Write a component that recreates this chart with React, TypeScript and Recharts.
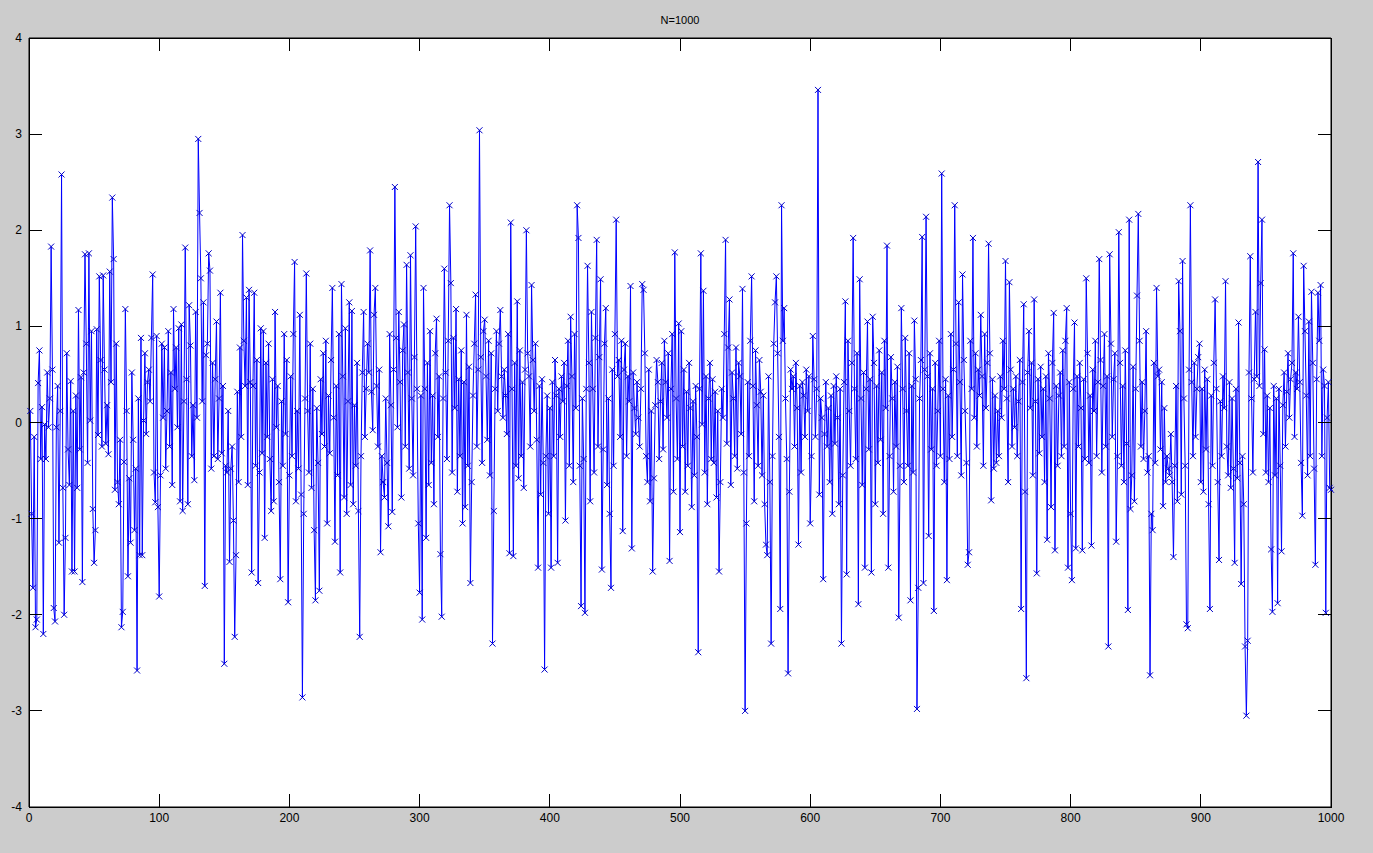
import React from 'react';
import { LineChart, Line, XAxis, YAxis } from 'recharts';

// values, 100 samples per block (x = 1..1000)
const block01 = [
  0.12, -0.95, -1.72, -0.15, -2.13, -2.05, 0.41, 0.75, -0.38, 0.16,
  -2.20, -0.02, -0.38, 0.52, -0.05, 0.25, 1.83, 0.55, -1.93, -2.07,
  -0.05, 0.38, -1.25, 0.12, 2.58, -0.68, -2.00, -1.20, 0.72, -0.28,
  -0.65, 0.43, -1.55, 0.12, -1.55, 0.28, -0.68, 1.17, -0.28, 0.47,
  -1.66, 0.52, 1.75, 0.82, -0.42, 1.76, 0.02, 0.95, -0.90, -1.46,
  -1.12, 0.97, -0.13, 1.52, 0.65, -0.25, 1.53, 0.55, -0.22, 0.18,
  -0.33, 1.57, 0.42, 2.34, 1.70, -0.70, 0.82, -0.62, -0.85, -0.18,
  -2.13, -1.97, -0.41, 1.18, 0.12, -1.60, -0.58, -1.25, 0.52, -0.18,
  -1.12, -0.48, -2.58, 0.25, -1.38, 0.88, -1.38, 0.02, 0.72, -0.12,
  0.42, 0.55, 0.22, 0.88, 1.54, -0.52, -0.83, 0.90, -0.88, -1.81,
];
const block02 = [
  -0.55, 0.82, 0.05, 0.78, -0.48, 0.12, 0.95, -0.25, 0.52, -0.65,
  1.18, 0.35, 0.78, -0.05, 0.98, -0.82, 1.02, -0.92, 0.22, 1.82,
  0.45, -0.85, 1.22, 0.80, -0.35, 0.18, -0.60, 1.15, 0.05, 2.95,
  2.18, 1.50, 0.22, 1.25, -1.70, 0.70, 0.82, 1.76, 1.58, -0.48,
  0.62, -0.35, 0.45, 1.05, -0.38, 0.25, 1.35, -0.32, 0.38, -2.51,
  -0.45, -0.52, 0.12, -1.45, -0.48, -0.25, -1.02, -2.23, -1.38, 0.32,
  -0.62, 0.78, -0.15, 1.95, 0.85, 0.38, 1.30, -0.65, 1.38, 0.42,
  -1.56, 0.38, 1.35, -0.45, 0.65, -1.67, -0.52, 0.98, -0.32, 0.95,
  -1.20, 0.62, -0.15, 0.82, -0.38, -0.92, 0.45, -0.82, 1.15, -0.05,
  0.38, -0.62, -1.63, 0.22, -0.45, 0.92, -0.12, 0.65, -1.87, -0.55,
];
const block03 = [
  0.48, -0.35, 0.92, 1.67, -0.82, 0.12, -0.48, 1.12, -0.75, -2.86,
  -0.95, 0.25, 1.55, 0.12, -0.52, 0.82, -0.68, 0.35, -1.12, -1.85,
  0.15, -0.42, -1.75, 0.45, -0.12, 0.72, -0.25, 0.85, -1.05, 0.28,
  -0.32, 0.65, 1.40, 0.05, -1.24, 0.38, -0.55, 0.92, -1.56, 1.44,
  0.48, -0.78, 0.98, -0.95, 0.22, 1.25, -0.65, 1.16, -0.85, 0.18,
  -0.45, 0.62, -0.92, -2.23, -0.35, 0.52, 1.15, -0.15, 0.35, 0.82,
  0.52, 1.79, 0.32, -0.08, 1.12, 1.40, 0.38, -0.25, 0.55, -1.35,
  -0.35, -0.62, -0.78, 0.25, -0.42, -1.08, 0.92, 0.18, -0.93, 0.55,
  2.45, 0.88, -0.05, 1.15, 0.42, -0.78, 0.75, 1.02, -0.25, 1.64,
  0.52, -0.48, 1.74, 0.25, -0.55, 0.68, 2.04, 0.35, -1.05, -1.77,
];
const block04 = [
  0.28, -2.05, 1.40, 0.35, -1.20, 0.62, -0.65, 0.95, -0.42, 0.28,
  -0.85, 0.72, 1.08, -0.15, 0.48, -1.37, -2.02, 0.25, 1.60, 0.52,
  -0.38, 0.85, 2.26, 1.45, -0.52, 0.88, 0.15, 1.18, -0.72, 0.45,
  -0.35, 0.75, -1.05, 0.42, -0.88, 1.12, -0.45, 0.58, -1.67, -0.62,
  0.28, 0.82, 1.33, -0.25, 0.55, 3.04, 0.68, -0.42, 0.95, 1.07,
  0.48, -0.18, 0.85, -0.55, 0.72, -2.30, -0.92, 0.35, 0.95, 0.12,
  0.82, 1.17, 0.48, 0.05, 0.55, 0.28, -0.12, 0.92, -1.36, 2.08,
  0.35, -1.39, 0.62, -0.45, 1.26, -0.58, 0.75, -0.35, 0.42, -0.68,
  0.55, 2.00, 0.72, 0.48, -0.25, 1.43, 0.65, 0.12, 0.82, -0.18,
  -1.51, 0.38, -0.75, 0.45, -0.42, -2.57, -0.35, 0.28, -0.95, 0.15,
];
const block05 = [
  -1.51, 0.42, -0.35, 0.65, 0.28, -1.46, 0.35, -0.15, 0.48, 0.22,
  0.62, -1.02, 0.38, 0.85, -0.45, 1.10, 0.48, -0.62, 0.92, 0.15,
  2.26, 1.92, -0.45, -1.91, 0.25, -0.38, -1.98, 0.35, 1.63, 0.62,
  -0.82, 1.15, 0.35, -0.52, 0.88, 1.90, -0.25, 0.68, 1.49, -1.53,
  -0.28, 0.82, 1.19, -0.65, 0.25, -0.95, -1.72, 0.55, -0.45, 0.92,
  2.11, 0.48, 0.65, -0.15, 0.85, -1.13, 0.55, 0.82, -0.35, 0.48,
  0.22, 1.42, -1.31, 0.52, 0.15, -0.12, 0.42, 0.05, -0.25, 0.35,
  1.44, 1.38, 0.72, -0.35, -0.62, 0.55, -0.82, 0.12, -1.55, -0.58,
  0.18, 0.65, 0.42, -0.38, 0.22, 0.62, -0.28, 0.85, 0.42, 0.05,
  0.72, -1.44, 0.35, 0.92, -0.72, 1.77, 0.25, -0.38, 1.03, -1.14,
];
const block06 = [
  0.95, -0.25, 0.55, -0.72, 0.32, -0.45, 0.62, 0.15, -0.88, 0.22,
  -0.55, 0.38, -0.15, -2.39, 0.35, 1.76, -0.02, 1.37, -0.52, 0.48,
  -0.85, 0.25, 0.62, -0.38, 0.45, -0.42, 0.32, -0.78, 0.12, -1.55,
  -0.62, 0.35, 0.05, 0.92, 1.90, -0.22, 0.78, 1.28, -0.65, 0.52,
  0.25, -0.35, 0.78, -0.48, 0.62, 0.48, -0.12, 1.39, -0.52, -3.00,
  -1.05, 0.42, -0.35, 0.85, 1.52, 0.38, -0.82, 0.75, 0.18, -0.45,
  0.65, 0.32, -0.55, 0.28, -0.85, -1.27, -1.38, 0.48, -0.62, -2.30,
  -0.35, 0.82, 1.25, 1.52, 0.72, -0.15, -1.94, 2.26, 0.85, 1.19,
  0.25, -0.38, -2.61, -0.72, 0.55, 0.35, 0.48, -0.25, 0.62, 0.15,
  -1.27, 0.38, -0.52, 0.42, 0.28, -0.15, 0.55, 0.12, 0.48, -1.05,
];
const block07 = [
  -0.35, 0.90, 0.45, -0.15, 0.35, 3.46, -0.75, 0.25, 0.05, -1.63,
  -0.12, 0.42, -0.25, 0.15, -0.62, 0.28, -0.95, 0.38, -0.22, 0.48,
  0.05, -0.85, 0.35, -2.30, -0.55, 0.42, 1.26, -1.58, 0.85, 0.12,
  -0.45, 0.62, 1.92, 0.35, -0.38, 0.72, -1.89, 1.49, 0.25, -0.65,
  0.52, -1.51, 0.35, 1.05, -0.28, 0.45, -1.56, 1.10, 0.62, -0.85,
  0.38, -0.42, 0.75, -0.18, 0.52, -0.95, 0.85, 0.15, 1.84, -1.51,
  -0.35, 0.68, 0.25, -0.72, 0.42, -0.25, 0.58, -2.03, -0.45, 1.19,
  0.35, -0.62, 0.88, 0.12, -0.45, 0.72, -1.85, 0.38, -0.52, 1.06,
  0.45, -2.98, -1.72, 0.25, 0.65, 1.93, -1.67, 0.55, 2.14, 0.48,
  -1.18, 0.72, -0.28, 0.35, -1.96, 0.62, -0.45, 0.12, 0.85, -0.35,
];
const block08 = [
  2.59, 0.35, -0.62, 0.45, -1.64, 0.28, -0.38, 0.92, -0.15, 0.55,
  2.26, 0.82, -0.35, 1.25, 0.42, -0.55, 1.54, 0.65, 0.12, -0.42,
  -1.48, -1.35, 0.85, 0.35, 1.92, 0.05, 0.72, -0.25, 0.55, 0.28,
  1.12, 0.48, -0.45, 0.92, 0.15, 0.62, 1.86, 0.72, -0.81, 0.45,
  -0.48, 0.28, -0.42, 0.12, -0.35, 0.48, 0.05, 0.85, 0.35, 1.68,
  0.25, -0.62, 1.46, 0.55, -0.25, 0.35, -0.05, 0.48, -0.35, 0.22,
  0.65, -1.94, 0.42, 1.23, -0.72, -2.66, 0.52, 0.95, 0.15, 0.62,
  -0.55, 1.28, 0.22, -1.57, 0.45, -0.32, 0.58, -0.15, 0.35, -0.62,
  0.48, -1.22, 0.72, 0.25, -0.88, 0.62, 1.14, -1.33, 0.38, -0.45,
  0.28, 0.52, -0.35, 0.75, -0.25, 0.85, 1.19, -1.51, 0.42, -0.95,
];
const block09 = [
  -1.64, 0.35, 1.04, -1.31, 0.48, -0.25, 0.62, 0.15, -1.33, 0.45,
  -0.38, 1.50, 0.72, -0.42, 0.28, -1.28, 0.55, 0.12, 0.85, -0.35,
  0.42, 1.70, 0.65, -0.52, 0.38, 0.92, -0.25, 0.48, -2.33, 1.75,
  0.82, -0.15, 0.45, 0.72, -1.24, -0.35, 1.98, 0.62, -0.45, 0.38,
  -0.62, 0.75, -0.22, -1.95, 2.11, -0.90, -0.55, 0.58, -0.82, 0.35,
  1.32, 2.17, 0.85, -0.25, 0.42, -0.38, 0.12, 0.95, -0.52, -0.35,
  -2.63, -0.95, -1.12, 0.62, -0.42, 1.40, 0.48, 0.55, -0.28, 0.42,
  -0.87, 0.15, -0.62, -0.35, -0.48, -0.55, -0.12, -0.62, -1.40, -0.45,
  0.38, -0.82, 1.47, 0.95, -0.75, 1.68, 0.25, -0.45, -2.10, -2.14,
  0.55, 2.26, 0.42, -0.35, 0.62, -0.15, 0.35, 0.68, 0.82, -0.62,
];
const block10 = [
  0.35, -0.72, 0.55, -0.28, 0.45, -0.85, -1.94, 0.28, -0.45, 0.62,
  1.28, 0.35, -0.62, -1.43, 0.22, -0.35, 0.48, 0.15, 1.47, -0.25,
  -0.55, 0.42, -0.68, 0.25, -0.48, -1.46, 0.35, -0.58, 1.04, -0.42,
  -1.68, -0.35, -0.85, -2.33, -3.05, -2.27, 0.52, 1.73, 0.25, -0.52,
  0.45, 1.15, 0.48, 2.71, 0.38, 1.45, 2.11, -0.12, 0.76, -0.52,
  0.28, -0.62, 0.15, -1.32, -1.97, 0.38, -0.55, 0.25, -1.88, 0.35,
  -0.45, -1.34, 0.18, 0.52, -0.25, 0.32, 0.72, 0.05, 0.45, 0.62,
  1.76, -0.15, 0.52, 0.35, 1.10, 0.42, -0.42, -0.97, 1.63, 0.95,
  0.28, -0.55, 1.05, -0.35, 1.36, 0.62, -0.48, -1.48, 0.45, 1.35,
  0.85, 1.43, -0.35, 0.55, 0.38, -1.98, 0.05, 0.42, -0.68, -0.70,
];

const seriesValues = [
  ...block01, ...block02, ...block03, ...block04, ...block05,
  ...block06, ...block07, ...block08, ...block09, ...block10,
];

const xTicks = [0, 100, 200, 300, 400, 500, 600, 700, 800, 900, 1000];
const yTicks = [-4, -3, -2, -1, 0, 1, 2, 3, 4];
const title = 'N=1000';

const data = seriesValues.map((v, i) => ({ n: i + 1, v }));

const BLUE = '#0000ff';
const TICK_LEN = 13;
const FONT = 'Arial, "Liberation Sans", Helvetica, sans-serif';

// MATLAB-style inward ticks
const LeftTick = ({ x, y, payload }: any) => (
  <g>
    <line x1={x} x2={x + TICK_LEN} y1={y} y2={y} stroke="#000" shapeRendering="crispEdges" />
    <text x={x - 7} y={y} dy={4} textAnchor="end" fontSize={12} fontFamily={FONT} fill="#000">
      {payload.value}
    </text>
  </g>
);

const RightTick = ({ x, y }: any) => (
  <line x1={x} x2={x - TICK_LEN} y1={y} y2={y} stroke="#000" shapeRendering="crispEdges" />
);

const BottomTick = ({ x, y, payload }: any) => (
  <g>
    <line x1={x} x2={x} y1={y} y2={y - TICK_LEN} stroke="#000" shapeRendering="crispEdges" />
    <text x={x} y={y} dy={15} textAnchor="middle" fontSize={12} fontFamily={FONT} fill="#000">
      {payload.value}
    </text>
  </g>
);

const TopTick = ({ x, y }: any) => (
  <line x1={x} x2={x} y1={y} y2={y + TICK_LEN} stroke="#000" shapeRendering="crispEdges" />
);

const CrossDot = ({ cx, cy, index }: any) => {
  if (cx == null || cy == null) return <g key={`d-${index}`} />;
  const r = 3;
  return (
    <path
      key={`d-${index}`}
      d={`M${cx - r},${cy - r}L${cx + r},${cy + r}M${cx - r},${cy + r}L${cx + r},${cy - r}`}
      stroke="#0000c8"
      strokeWidth={1}
      fill="none"
    />
  );
};

export default function App() {
  return (
    <div style={{ position: 'fixed', left: 0, top: 0, width: 1373, height: 853, background: '#cccccc' }}>
      <div
        style={{
          position: 'absolute',
          left: 29,
          width: 1302,
          top: 14,
          textAlign: 'center',
          fontFamily: FONT,
          fontSize: 11,
          color: '#000',
        }}
      >
        {title}
      </div>
      <LineChart width={1373} height={853} data={data} margin={{ top: 0, right: 0, bottom: 0, left: 0 }}>
        <rect x={29.5} y={38.5} width={1302} height={769} fill="#ffffff" stroke="#000" shapeRendering="crispEdges" />
        <XAxis
          dataKey="n"
          type="number"
          domain={[0, 1000]}
          ticks={xTicks}
          height={46}
          tickSize={0}
          tickMargin={0}
          tickLine={false}
          tick={<BottomTick />}
          axisLine={{ stroke: '#000' }}
          interval={0}
        />
        <XAxis
          xAxisId="top"
          dataKey="n"
          orientation="top"
          type="number"
          domain={[0, 1000]}
          ticks={xTicks}
          height={38}
          tickSize={0}
          tickMargin={0}
          tickLine={false}
          tick={<TopTick />}
          axisLine={{ stroke: '#000' }}
          interval={0}
        />
        <YAxis
          type="number"
          domain={[-4, 4]}
          ticks={yTicks}
          width={29}
          tickSize={0}
          tickMargin={0}
          tickLine={false}
          tick={<LeftTick />}
          axisLine={{ stroke: '#000' }}
          interval={0}
        />
        <YAxis
          yAxisId="right"
          orientation="right"
          type="number"
          domain={[-4, 4]}
          ticks={yTicks}
          width={42}
          tickSize={0}
          tickMargin={0}
          tickLine={false}
          tick={<RightTick />}
          axisLine={{ stroke: '#000' }}
          interval={0}
        />
        {/* invisible copy so that the top and right box axes get drawn */}
        <Line
          xAxisId="top"
          yAxisId="right"
          dataKey="v"
          type="linear"
          stroke="none"
          dot={false}
          activeDot={false}
          legendType="none"
          isAnimationActive={false}
        />
        <Line
          dataKey="v"
          type="linear"
          stroke={BLUE}
          strokeWidth={1}
          dot={(p: any) => <CrossDot {...p} />}
          activeDot={false}
          isAnimationActive={false}
        />
      </LineChart>
    </div>
  );
}
